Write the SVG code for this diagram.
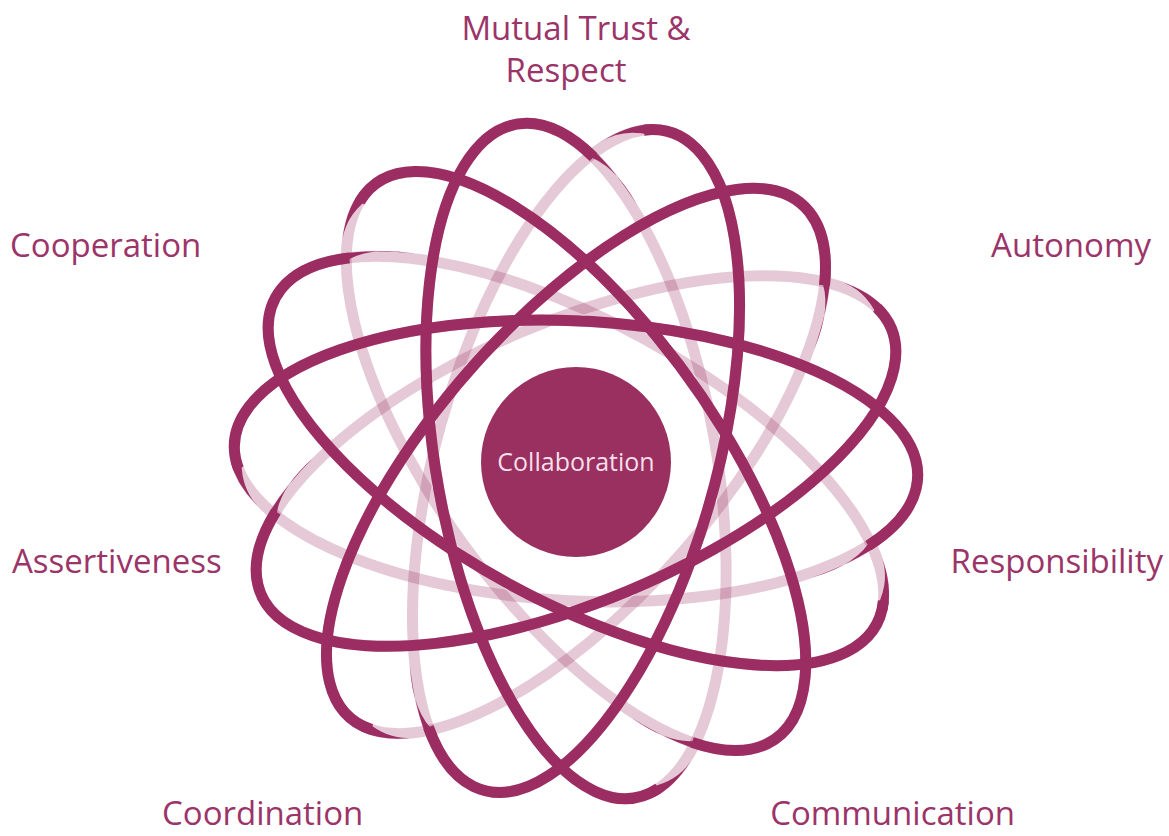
<svg xmlns="http://www.w3.org/2000/svg" width="1169" height="836" viewBox="0 0 1169 836">
  <style>
    .lt { fill: none; stroke: #9b2d62; stroke-opacity: 0.26; stroke-width: 11; }
    .dk { fill: none; stroke: #9b2d62; stroke-width: 11; }
    .tp { fill: #9b2d62; }
    .lbl { font-family: "Open Sans", "Liberation Sans", sans-serif; font-size: 33px; fill: #9b3468; }
    .core-text { font-family: "Open Sans", "Liberation Sans", sans-serif; font-size: 25px; fill: #f6dfeb; }
  </style>
  <defs>
    <!-- one orbit: faint full ribbon, solid front half with tapered twist at both ends -->
    <g id="orbit">
      <ellipse rx="342" ry="140" class="lt"/>
      <path class="dk" d="M 336.8 -24.3 A 342 140 0 1 1 -296.2 -70"/>
      <path class="tp" d="M -309.6 -66.1 A 347.5 145.5 0 0 1 -241.4 -104.7 Q -287.6 -89 -299.8 -61.1 Z"/>
      <path class="tp" d="M 344.9 -17.7 A 347.5 145.5 0 0 0 312.3 -63.8 Q 333.2 -46.4 334.0 -16.4 Z"/>
    </g>
  </defs>

  <rect width="1169" height="836" fill="#ffffff"/>

  <!-- seven orbits, 360/7 degrees apart -->
  <g id="orbits">
    <g id="orbit-1" transform="translate(576,461) rotate(80)"><use href="#orbit"/></g>
    <g id="orbit-2" transform="translate(576,461) rotate(131.43)"><use href="#orbit"/></g>
    <g id="orbit-3" transform="translate(576,461) rotate(182.86)"><use href="#orbit"/></g>
    <g id="orbit-4" transform="translate(576,461) rotate(234.29)"><use href="#orbit"/></g>
    <g id="orbit-5" transform="translate(576,461) rotate(285.71)"><use href="#orbit"/></g>
    <g id="orbit-6" transform="translate(576,461) rotate(337.14)"><use href="#orbit"/></g>
    <g id="orbit-7" transform="translate(576,461) rotate(28.57)"><use href="#orbit"/></g>
  </g>

  <g id="collaboration">
    <circle cx="576" cy="462" r="95" fill="#99305f"/>
    <text class="core-text" x="576" y="471" text-anchor="middle">Collaboration</text>
  </g>

  <g id="label-trust">
    <text class="lbl" x="576" y="40" text-anchor="middle">Mutual Trust &amp;</text>
    <text class="lbl" x="566" y="82" text-anchor="middle">Respect</text>
  </g>
  <g id="label-cooperation"><text class="lbl" x="10" y="257">Cooperation</text></g>
  <g id="label-autonomy"><text class="lbl" x="1151" y="257" text-anchor="end">Autonomy</text></g>
  <g id="label-assertiveness"><text class="lbl" x="12" y="573">Assertiveness</text></g>
  <g id="label-responsibility"><text class="lbl" x="1163" y="573" text-anchor="end">Responsibility</text></g>
  <g id="label-coordination"><text class="lbl" x="162" y="825">Coordination</text></g>
  <g id="label-communication"><text class="lbl" x="1015" y="825" text-anchor="end">Communication</text></g>
</svg>
